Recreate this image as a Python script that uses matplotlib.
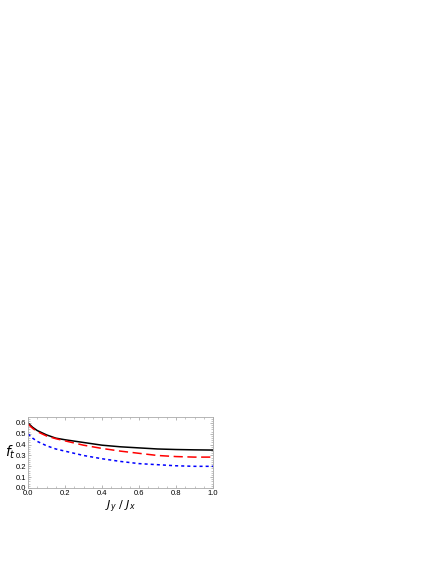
import matplotlib
matplotlib.use("Agg")
import matplotlib.pyplot as plt
import numpy as np
from matplotlib.ticker import MultipleLocator

plt.rcParams['font.family'] = ['Liberation Sans', 'DejaVu Sans']

# values
ratio = [0.0, 0.025, 0.05, 0.1, 0.15, 0.2, 0.3, 0.4, 0.5, 0.6, 0.7, 0.8, 0.9, 1.0]
f_black = [0.60, 0.56, 0.53, 0.49, 0.46, 0.445, 0.42, 0.395, 0.38, 0.37, 0.36, 0.355, 0.352, 0.35]
f_red = [0.59, 0.55, 0.52, 0.48, 0.455, 0.435, 0.395, 0.365, 0.34, 0.32, 0.30, 0.29, 0.285, 0.285]
f_blue = [0.50, 0.46, 0.43, 0.39, 0.36, 0.34, 0.30, 0.27, 0.245, 0.225, 0.215, 0.205, 0.20, 0.20]

fig = plt.figure(figsize=(4.36, 5.64), dpi=100)
ax = fig.add_axes([28/436, 1-488/564, 185/436, 71/564])

ax.plot(ratio, f_black, color='black', lw=1.1)
ax.plot(ratio, f_red, color='red', lw=1.1, dashes=(6, 3))
ax.plot(ratio, f_blue, color='blue', lw=1.1, dashes=(2, 2))

ax.set_xlim(0, 1)
ax.set_ylim(0, 0.655)
ax.xaxis.set_major_locator(MultipleLocator(0.2))
ax.xaxis.set_minor_locator(MultipleLocator(0.05))
ax.yaxis.set_major_locator(MultipleLocator(0.1))
ax.yaxis.set_minor_locator(MultipleLocator(0.02))
ax.tick_params(which='both', direction='in', top=True, right=True,
               color='#999999', labelsize=5.5, pad=1.5)
ax.tick_params(which='major', length=2.5, width=0.5)
ax.tick_params(which='minor', length=1.3, width=0.4)
for s in ax.spines.values():
    s.set_color('#aaaaaa')
    s.set_linewidth(0.6)

ax.set_xlabel(r'$J_y\ /\ J_x$', fontsize=8, labelpad=1)
ax.text(-0.097, 0.5, r'$f_t$', transform=ax.transAxes, fontsize=10,
        ha='center', va='center')

plt.savefig('out.png', dpi=100, facecolor='w')
